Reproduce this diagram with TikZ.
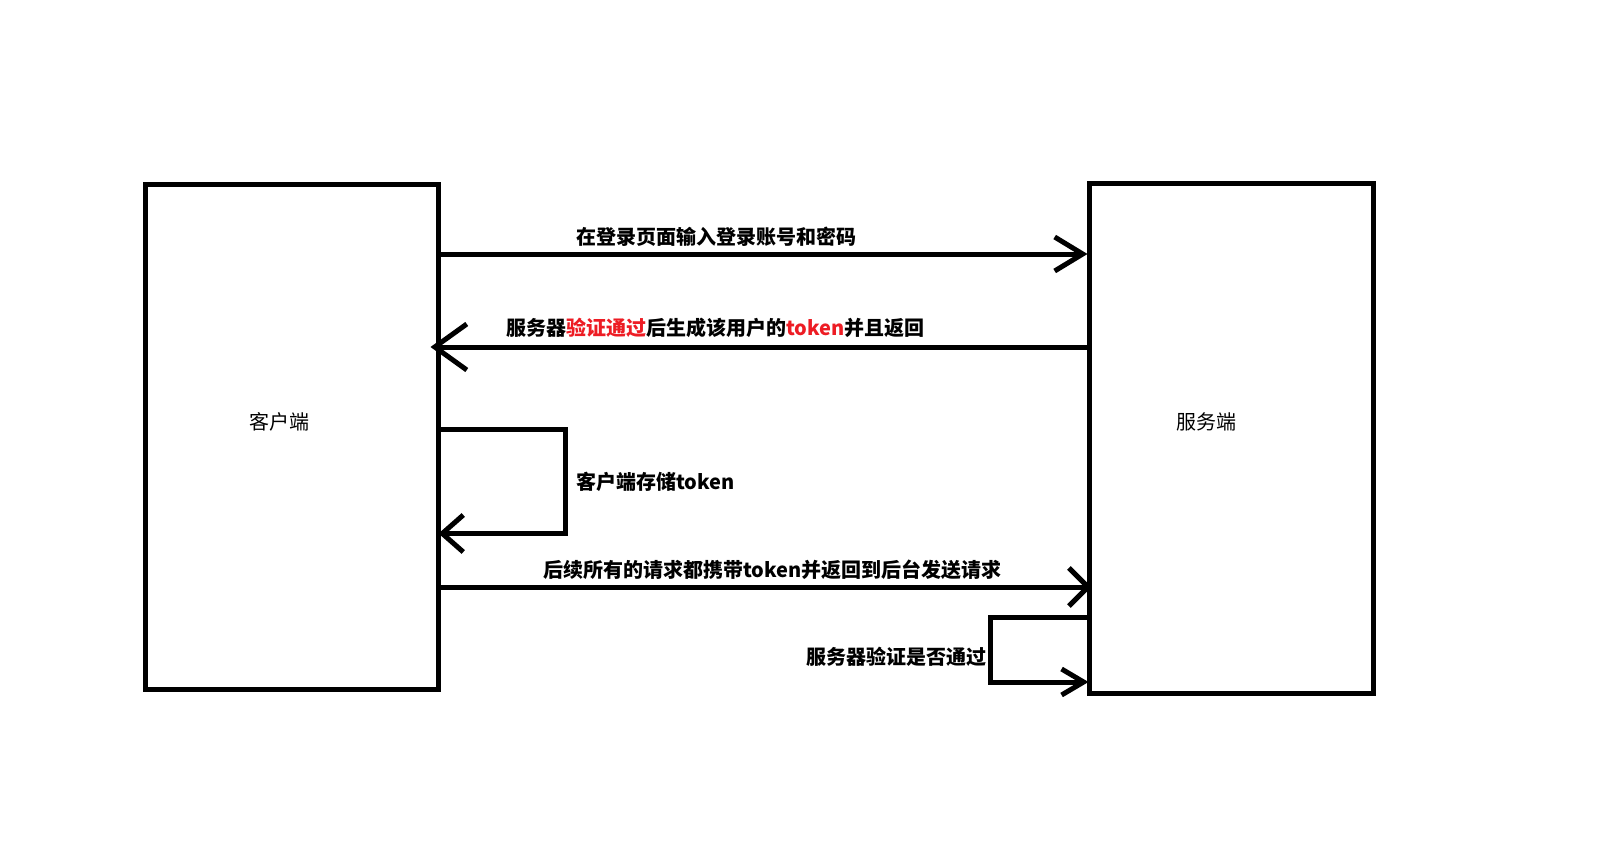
\documentclass[tikz,border=0pt]{standalone}
\usepackage{fontspec}
\setmainfont{Noto Sans CJK SC}
\usetikzlibrary{arrows.meta}
\definecolor{paintred}{RGB}{237,28,36}
\tikzset{
  boxnode/.style={draw=black, line width=5pt, outer sep=0pt, inner sep=0pt},
  conn/.style={draw=black, line width=5pt},
  lbl/.style={anchor=west, inner sep=0pt, font=\fontsize{20}{22}\selectfont\bfseries},
  boxlbl/.style={inner sep=0pt, font=\fontsize{20}{22}\selectfont},
}
\begin{document}
\begin{tikzpicture}[x=1pt,y=-1pt]
\useasboundingbox[fill=white] (0,0) rectangle (1612,848);
% boxes
\node[boxnode, minimum width=293pt, minimum height=504.5pt] (client) at (292,436.75) {};
\node[boxnode, minimum width=283.5pt, minimum height=510pt] (server) at (1231.25,438) {};
\node[boxlbl] (clientlbl) at (279,422) {客户端};
\node[boxlbl] (serverlbl) at (1206,422) {服务端};
% level coordinates
\coordinate (y1) at (0,254);
\coordinate (y2) at (0,347);
\coordinate (loopA) at (565,429);
\coordinate (loopB) at (565,533.5);
\coordinate (y4) at (0,587);
\coordinate (sloopA) at (990.5,617.5);
\coordinate (sloopB) at (990.5,682);
% connectors
\draw[conn, -{Straight Barb[length=28pt,width=34pt]}] (client.east |- y1) -- ([xshift=-2pt]server.west |- y1);
\draw[conn, -{Straight Barb[length=32pt,width=46pt]}] (server.west |- y2) -- ([xshift=-8pt]client.east |- y2);
\draw[conn, -{Straight Barb[length=21pt,width=37pt]}] (client.east |- loopA) -- (loopA) -- (loopB) -- (client.east |- loopB);
\draw[conn, -{Straight Barb[length=19pt,width=38pt]}] (client.east |- y4) -- ([xshift=2pt]server.west |- y4);
\draw[conn, -{Straight Barb[length=22pt,width=26pt]}] (server.west |- sloopA) -- (sloopA) -- (sloopB) -- ([xshift=-1pt]server.west |- sloopB);
% labels
\node[lbl] (l1) at (576,236.7) {在登录页面输入登录账号和密码};
\node[lbl] (l2) at (506,328) {服务器\textcolor{paintred}{验证通过}后生成该用户的\textcolor{paintred}{token}并且返回};
\node[lbl] (l3) at (576,482) {客户端存储token};
\node[lbl] (l4) at (543,570) {后续所有的请求都携带token并返回到后台发送请求};
\node[lbl] (l5) at (806,657) {服务器验证是否通过};
\end{tikzpicture}
\end{document}
